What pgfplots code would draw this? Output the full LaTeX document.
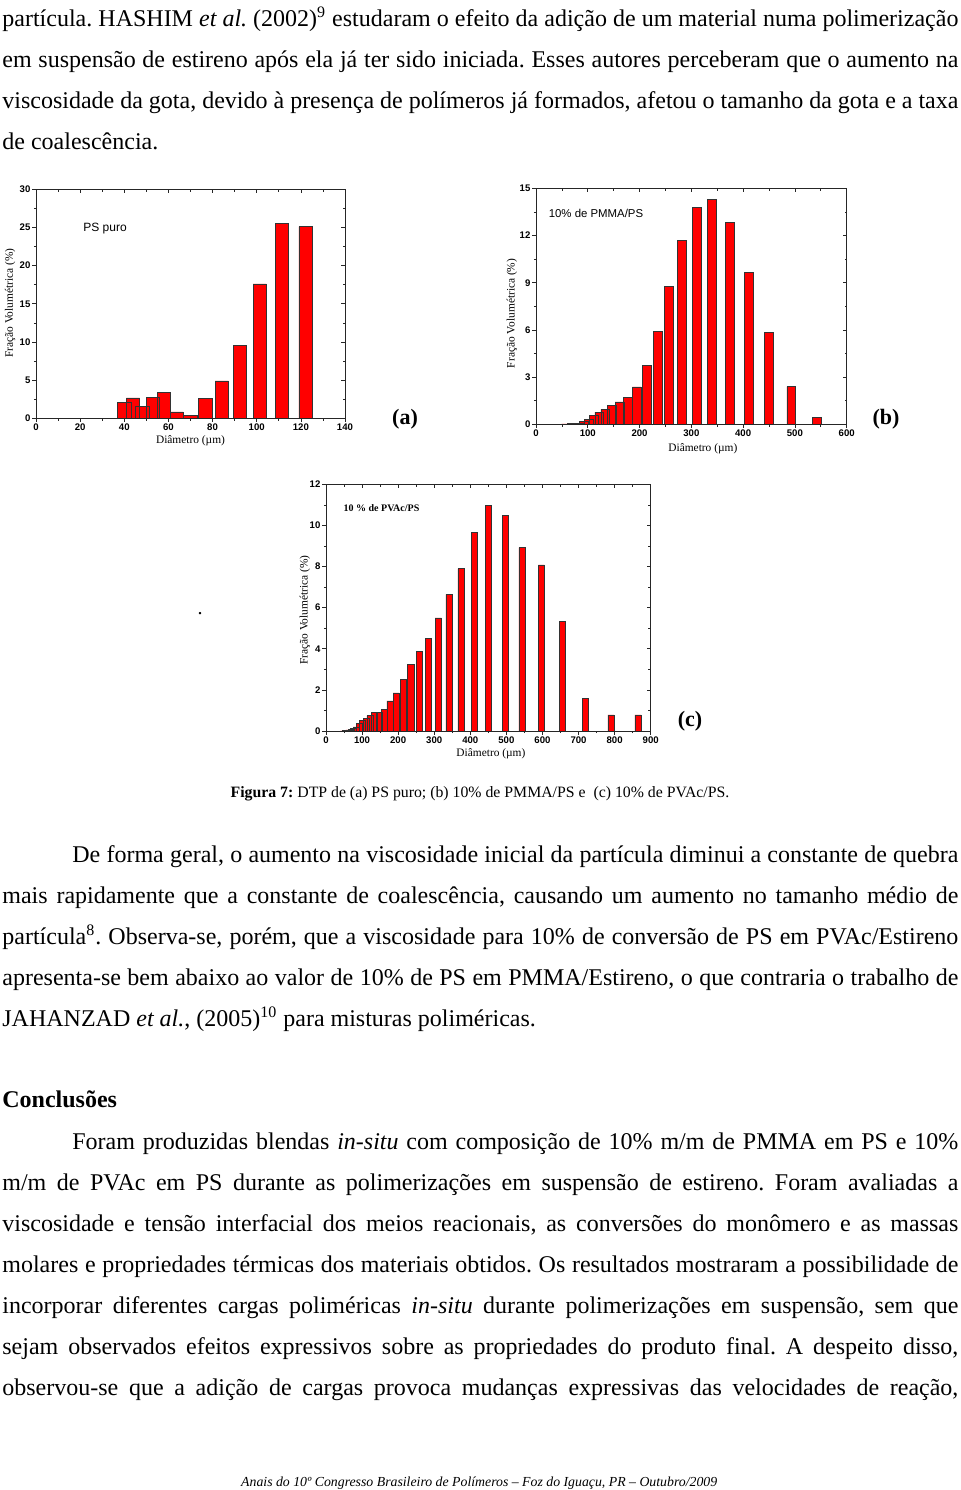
\documentclass[border=0pt]{standalone}
\usepackage{fontspec}
\setmainfont{Liberation Serif}
\setsansfont{Liberation Sans}
\usepackage{pgfplots}
\pgfplotsset{compat=1.18}

\pgfplotsset{
  dtp/.style={
    scale only axis, axis on top, anchor=north west,
    axis line style={line width=0.45pt, black!85},
    tick style={line width=0.35pt, black!85},
    major tick length=1.8pt, minor tick length=1.1pt,
    tick align=outside, xtick pos=left, ytick pos=left,
    minor x tick num=1, minor y tick num=1,
    /pgf/number format/assume math mode=true,
    tick label style={font=\sffamily\bfseries\fontsize{4.8}{5}\selectfont, inner sep=0.8pt},
    label style={font=\fontsize{5.7}{6}\selectfont},
    xlabel={Diâmetro (µm)}, ylabel={Fração Volumétrica (\%)},
  },
  dtpover/.style={
    scale only axis, anchor=north west,
    axis line style={line width=0.45pt, black!85},
    tick style={line width=0.35pt, black!85},
    major tick length=1.8pt, minor tick length=1.1pt,
    tick align=inside, xtick pos=right, ytick pos=right,
    minor x tick num=1, minor y tick num=1,
    xticklabels={}, yticklabels={},
  },
  bars/.style={ybar, bar shift=0pt, fill=red, draw=black!80, line width=0.3pt},
}

\tikzset{
  body/.style={anchor=base west, inner sep=0pt, font=\fontsize{12}{14}\selectfont},
}
\newcommand{\jl}[4]{\node[body] at (#1,-#2) {\makebox[#3][s]{#4}};}
\newcommand{\pl}[3]{\node[body] at (#1,-#2) {#3};}

\begin{document}
\frenchspacing
\begin{tikzpicture}
\useasboundingbox (0,0) rectangle (480pt,-745pt);

% Paragraph 1
\jl{1pt}{13.25pt}{478pt}{partícula. HASHIM \textit{et al.} (2002)\textsuperscript{9} estudaram o efeito da adição de um material numa polimerização}
\jl{1pt}{33.75pt}{478pt}{em suspensão de estireno após ela já ter sido iniciada. Esses autores perceberam que o aumento na}
\jl{1pt}{54.25pt}{478pt}{viscosidade da gota, devido à presença de polímeros já formados, afetou o tamanho da gota e a taxa}
\pl{1pt}{74.75pt}{de coalescência.}

% panel labels
\node[font=\bfseries\fontsize{11}{12}\selectfont] at (202.5pt,-209.5pt) {(a)};
\node[font=\bfseries\fontsize{11}{12}\selectfont] at (443pt,-209.5pt) {(b)};
\node[font=\bfseries\fontsize{11}{12}\selectfont] at (345pt,-360.5pt) {(c)};
\node[font=\fontsize{10}{12}\selectfont] at (100pt,-307pt) {.};

% caption
\node[anchor=base, inner sep=0pt, font=\fontsize{7.9}{9}\selectfont] at (240pt,-398.75pt) {\textbf{Figura 7:} DTP de (a) PS puro; (b) 10\% de PMMA/PS e \ (c) 10\% de PVAc/PS.};

% Paragraph 2
\jl{36pt}{431.25pt}{443pt}{De forma geral, o aumento na viscosidade inicial da partícula diminui a constante de quebra}
\jl{1pt}{451.75pt}{478pt}{mais rapidamente que a constante de coalescência, causando um aumento no tamanho médio de}
\jl{1pt}{472.25pt}{478pt}{partícula\textsuperscript{8}. Observa-se, porém, que a viscosidade para 10\% de conversão de PS em PVAc/Estireno}
\jl{1pt}{492.75pt}{478pt}{apresenta-se bem abaixo ao valor de 10\% de PS em PMMA/Estireno, o que contraria o trabalho de}
\pl{1pt}{513.25pt}{JAHANZAD \textit{et al.}, (2005)\textsuperscript{10} para misturas poliméricas.}

\pl{1pt}{553.5pt}{\textbf{Conclusões}}

% Paragraph 3
\jl{36pt}{574.75pt}{443pt}{Foram produzidas blendas \textit{in-situ} com composição de 10\% m/m de PMMA em PS e 10\%}
\jl{1pt}{595.25pt}{478pt}{m/m de PVAc em PS durante as polimerizações em suspensão de estireno. Foram avaliadas a}
\jl{1pt}{615.75pt}{478pt}{viscosidade e tensão interfacial dos meios reacionais, as conversões do monômero e as massas}
\jl{1pt}{636.25pt}{478pt}{molares e propriedades térmicas dos materiais obtidos. Os resultados mostraram a possibilidade de}
\jl{1pt}{656.75pt}{478pt}{incorporar diferentes cargas poliméricas \textit{in-situ} durante polimerizações em suspensão, sem que}
\jl{1pt}{677.25pt}{478pt}{sejam observados efeitos expressivos sobre as propriedades do produto final. A despeito disso,}
\jl{1pt}{697.75pt}{478pt}{observou-se que a adição de cargas provoca mudanças expressivas das velocidades de reação,}

% footer
\node[anchor=base, inner sep=0pt, font=\itshape\fontsize{6.9}{8}\selectfont] at (239.6pt,-743pt) {Anais do 10º Congresso Brasileiro de Polímeros -- Foz do Iguaçu, PR -- Outubro/2009};

% ---------- (a) ----------
\begin{axis}[dtp, at={(18pt,-94.65pt)}, width=154.5pt, height=114.5pt,
  xmin=0, xmax=140, ymin=0, ymax=30, xtick={0,20,...,140}, ytick={0,5,...,30},
  xlabel style={at={(axis description cs:0.5,-0.099)}, anchor=center},
  ylabel style={at={(axis description cs:-0.084,0.503)}, anchor=center}]
\addplot[bars, bar width=6] coordinates {(40.0,2.05)(43.9,2.66)(48.2,1.53)(52.9,2.75)(58.0,3.4)(63.7,0.83)(69.9,0.4)(76.7,2.58)(84.2,4.9)(92.4,9.5)(101.4,17.6)(111.3,25.5)(122.1,25.1)};
\node[font=\sffamily\fontsize{6}{7}\selectfont] at (axis cs:31.3,24.9) {PS puro};
\end{axis}
\begin{axis}[dtpover, at={(18pt,-94.65pt)}, width=154.5pt, height=114.5pt,
  xmin=0, xmax=140, ymin=0, ymax=30, xtick={0,20,...,140}, ytick={0,5,...,30}]
\end{axis}

% ---------- (b) ----------
\begin{axis}[dtp, at={(268pt,-94.15pt)}, width=155.35pt, height=118pt,
  xmin=0, xmax=600, ymin=0, ymax=15, xtick={0,100,...,600}, ytick={0,3,...,15},
  xlabel style={at={(axis description cs:0.537,-0.105)}, anchor=center},
  ylabel style={at={(axis description cs:-0.078,0.47)}, anchor=center}]
\addplot[bars, bar width=17] coordinates {(53.0,0.01)(58.0,0.02)(63.7,0.03)(69.9,0.04)(76.7,0.05)(84.2,0.08)(92.4,0.17)(101.4,0.32)(111.3,0.57)(122.1,0.78)(134.0,0.95)(147.1,1.21)(161.4,1.42)(177.1,1.69)(194.4,2.38)(213.4,3.73)(234.5,5.89)(257,8.75)(282,11.67)(310,13.77)(340,14.28)(374,12.82)(411,9.64)(450,5.83)(493,2.39)(542,0.44)};
\node[font=\sffamily\fontsize{5.7}{7}\selectfont] at (axis cs:115.9,13.43) {10\% de PMMA/PS};
\end{axis}
\begin{axis}[dtpover, at={(268pt,-94.15pt)}, width=155.35pt, height=118pt,
  xmin=0, xmax=600, ymin=0, ymax=15, xtick={0,100,...,600}, ytick={0,3,...,15}]
\end{axis}

% ---------- (c) ----------
\begin{axis}[dtp, at={(163pt,-242.15pt)}, width=162.35pt, height=123.35pt,
  xmin=0, xmax=900, ymin=0, ymax=12, xtick={0,100,...,900}, ytick={0,2,...,12},
  xlabel style={at={(axis description cs:0.508,-0.093)}, anchor=center},
  ylabel style={at={(axis description cs:-0.065,0.49)}, anchor=center}]
\addplot[bars, bar width=17] coordinates {(48,0.01)(53,0.02)(58,0.03)(63.7,0.05)(69.9,0.08)(76.7,0.12)(84.2,0.2)(92.4,0.37)(101.4,0.5)(111.3,0.6)(122.1,0.75)(134.0,0.9)(147.1,0.9)(161.4,1.05)(177.1,1.46)(194.4,1.85)(214,2.5)(235,3.24)(258,3.86)(283,4.51)(311,5.5)(341,6.65)(374,7.9)(411,9.65)(451,10.99)(497,10.49)(543,8.92)(597,8.08)(655,5.32)(719,1.57)(790,0.78)(865,0.78)};
\node[font=\bfseries\fontsize{5}{6}\selectfont] at (axis cs:153.8,10.85) {10 \% de PVAc/PS};
\end{axis}
\begin{axis}[dtpover, at={(163pt,-242.15pt)}, width=162.35pt, height=123.35pt,
  xmin=0, xmax=900, ymin=0, ymax=12, xtick={0,100,...,900}, ytick={0,2,...,12}]
\end{axis}

\end{tikzpicture}
\end{document}
